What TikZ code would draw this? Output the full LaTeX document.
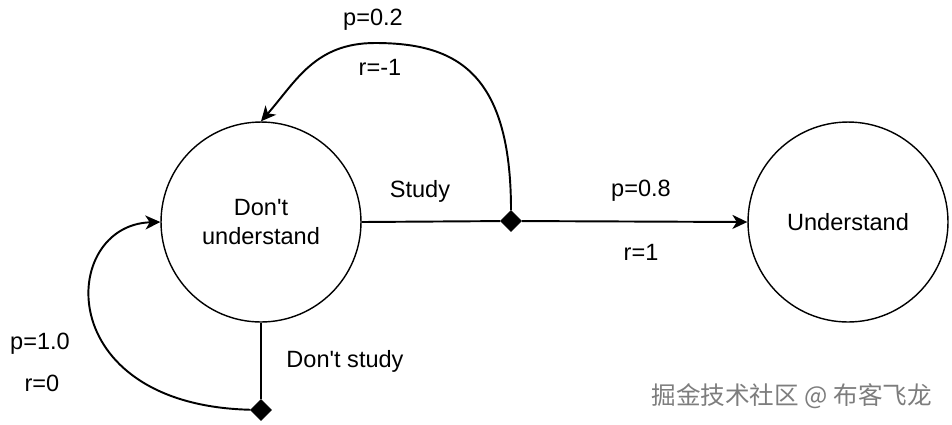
\documentclass[tikz,border=0pt]{standalone}
\usepackage{fontspec}
\setmainfont{Liberation Sans}
\newfontfamily\cjkfont{Noto Sans CJK SC}
\usepackage{xcolor}
\usetikzlibrary{shapes.geometric,arrows.meta,positioning}
\definecolor{wmgray}{RGB}{125,125,125}

\begin{document}
\begin{tikzpicture}[x=0.02cm,y=-0.02cm,
  font=\fontsize{13.4}{16}\selectfont,
  state/.style={draw,circle,line width=0.8pt,minimum size=4cm,inner sep=0pt,align=center},
  choice/.style={draw,diamond,fill=black,inner sep=0pt,minimum width=0.42cm,minimum height=0.42cm},
  link/.style={line width=1.1pt},
  tip/.style={link,-{Stealth[length=8.5pt,width=8pt,inset=2.5pt]}}]
\useasboundingbox (0,0) rectangle (952,424);
% states
\node[state] (dont) at (261,222){Don\textquotesingle t\\understand};
\node[state] (know) at (848,222){Understand};
% action points
\node[choice] (study) at (511,221){};
\node[choice] (skip) at (261,410){};
\coordinate (peak) at (375,43);
% actions
\draw[link] (dont.east) -- (study);
\draw[link] (dont.south) -- (skip);
% outcomes
\draw[tip] (study) -- (know.west);
\draw[tip] (study) .. controls +(0,-150) and +(80,0) .. (peak)
   .. controls +(-60,0) and +(35,-40) .. (dont.north);
\draw[tip] (skip) .. controls +(-211,-5) and +(-101,3) .. (dont.west);
% labels
\node (lstudy) at (420,191){Study};
\node (lskip) at (345,361){Don\textquotesingle t study};
\node (pknow) at (641,191){p=0.8};
\node (rknow) at (641,252){r=1};
\node (pback) at (373,20){p=0.2};
\node (rback) at (380,67){r=-1};
\node (pstay) at (40,344){p=1.0};
\node (rstay) at (42,383){r=0};
\node[anchor=east,text=wmgray,font=\cjkfont\fontsize{14}{16}\selectfont] (mark) at (938,396){掘金技术社区 @ 布客飞龙};
\end{tikzpicture}
\end{document}
